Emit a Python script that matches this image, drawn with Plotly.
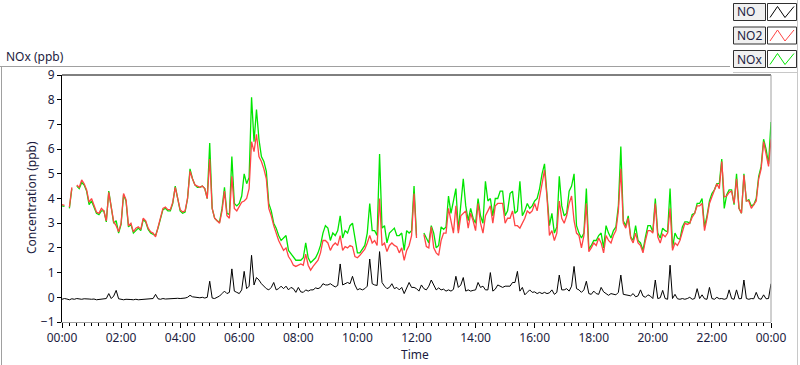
import plotly.graph_objects as go
import pandas as pd

# ---------------- data (5-minute samples, 00:00 .. 24:00) ----------------
start_time = "2024-01-01 00:00"
end_time = "2024-01-02 00:00"
sample_step = "5min"

no2_ppb = [
    3.75, 3.72, None, 3.65, 4.45, None, 4.55, 4.45, 4.75, 4.6, 4.35, 3.85,
    4.0, 3.7, 3.45, 3.4, 3.6, 3.5, 3.1, 4.25, 3.6, 3.05, 2.9, 2.65,
    3.0, 4.2, 3.95, 2.9, 3.0, 2.65, 2.8, 2.85, 2.75, 3.2, 3.1, 2.8,
    2.65, 2.6, 2.45, 2.85, 3.25, 3.6, 3.65, 3.55, 3.55, 3.85, 4.45, 4.0,
    3.55, 3.45, 3.5, 4.0, 5.1, 4.8, 4.55, 4.5, 4.45, 4.5, 4.4, 4.0,
    5.6, 3.6, 3.2, 3.1, 3.0, 3.5, 4.3, 3.3, 3.2, 4.9, 3.6, 3.5,
    3.65, 3.85, 3.9, 4.0, 4.4, 6.3, 5.9, 6.6, 5.7, 5.5, 5.2, 4.8,
    3.6, 3.3, 2.9, 2.6, 2.3, 2.1, 1.9, 2.0, 1.65, 1.5, 1.3, 1.25,
    1.3, 1.35, 1.3, 1.75, 1.3, 1.1, 1.25, 1.4, 1.5, 1.8, 2.3, 2.3,
    2.2, 1.9, 2.1, 2.2, 2.1, 2.5, 1.9, 2.05, 2.0, 2.1, 2.05, 1.65,
    1.6, 1.7, 1.85, 1.95, 2.2, 2.5, 2.2, 2.3, 2.1, 4.0, 2.1, 2.2,
    1.85, 2.1, 2.2, 2.1, 2.05, 1.8, 2.0, 1.5, 1.9, 2.1, 2.5, 4.2,
    2.4, None, None, 2.55, 2.05, 2.0, 2.85, 2.0, 1.8, 1.7, 2.3, 2.6,
    2.6, 3.6, 3.1, 2.6, 3.7, 2.6, 3.3, 3.4, 3.5, 2.8, 3.4, 3.1,
    2.7, 3.8, 3.0, 2.6, 3.3, 3.5, 3.7, 3.0, 3.7, 3.8, 3.8, 3.8,
    3.0, 3.2, 3.2, 3.5, 2.9, 2.9, 2.8, 3.0, 3.2, 3.5, 3.4, 3.5,
    3.8, 3.5, 4.05, 4.6, 5.15, 4.07, 2.5, 2.7, 2.3, 2.6, 3.9, 3.2,
    3.0, 3.3, 3.8, 4.1, 3.1, 2.6, 2.5, 2.0, 2.5, 3.8, 1.85, 2.0,
    2.2, 2.1, 2.4, 2.2, 1.8, 2.5, 2.3, 2.2, 2.5, 2.7, 3.5, 5.2,
    3.0, 2.8, 3.2, 2.4, 2.2, 2.6, 2.2, 2.1, 1.8, 2.3, 2.7, 2.7,
    2.6, 3.8, 2.45, 2.2, 2.55, 2.45, 2.6, 3.6, 1.9, 2.2, 2.1, 2.3,
    2.7, 3.0, 2.95, 3.0, 3.25, 3.4, 3.7, 3.7, 3.8, 2.7, 3.2, 3.8,
    4.07, 4.3, 4.6, 4.4, 5.5, 4.07, 4.1, 4.25, 4.3, 3.8, 4.8, 3.6,
    3.4, 4.95, 3.9, 3.9, 3.6, 3.75, 3.9, 4.8, 5.2, 6.3, 5.8, 5.3,
    6.4,
]

nox_ppb = [
    3.7, 3.68, None, 3.6, 4.4, None, 4.5, 4.4, 4.65, 4.55, 4.3, 3.75,
    3.9, 3.65, 3.4, 3.35, 3.5, 3.5, 3.05, 4.3, 3.55, 3.0, 3.1, 2.6,
    2.95, 4.15, 3.9, 2.85, 2.95, 2.6, 2.7, 2.8, 2.7, 3.15, 3.05, 2.75,
    2.6, 2.55, 2.5, 2.8, 3.2, 3.55, 3.6, 3.5, 3.5, 3.8, 4.5, 3.95,
    3.5, 3.4, 3.45, 4.0, 5.2, 4.8, 4.55, 4.45, 4.45, 4.5, 4.4, 4.0,
    6.25, 3.6, 3.2, 3.1, 3.05, 3.6, 4.45, 3.4, 3.35, 5.7, 3.8, 3.7,
    3.8, 4.1, 5.0, 4.6, 4.85, 8.1, 6.3, 7.6, 6.4, 5.7, 5.5, 5.1,
    3.8, 3.5, 3.0, 2.8, 2.5, 2.3, 2.4, 2.5, 1.9, 1.75, 1.6, 1.5,
    1.5, 1.5, 1.6, 2.2, 1.6, 1.4, 1.5, 1.6, 1.8, 2.1, 2.6, 2.9,
    2.8, 2.3, 2.6, 2.5, 2.7, 3.3, 2.4, 2.7, 2.6, 2.9, 3.0, 2.4,
    1.8, 1.8, 1.95, 2.1, 2.6, 3.8, 2.7, 2.7, 2.5, 5.8, 2.8, 2.9,
    2.2, 2.6, 2.7, 2.8, 2.5, 2.5, 2.6, 1.9, 2.7, 2.6, 2.7, 4.5,
    2.5, None, None, 2.6, 2.4, 2.2, 2.9, 2.6, 2.0, 2.1, 2.85, 2.75,
    2.85, 4.1, 3.4, 3.9, 4.4, 2.7, 3.8, 4.8, 3.7, 3.1, 3.6, 3.2,
    3.0, 4.0, 3.3, 3.0, 4.7, 3.9, 4.0, 3.3, 4.0, 4.0, 4.3, 4.3,
    3.3, 3.5, 4.2, 4.3, 3.4, 3.5, 4.7, 3.3, 3.5, 3.8, 3.6, 3.7,
    3.9, 4.0, 4.4, 5.0, 5.4, 4.2, 2.9, 3.4, 2.6, 2.85, 4.9, 3.7,
    3.3, 3.4, 4.3, 4.5, 5.0, 2.9, 2.6, 2.4, 2.6, 4.4, 1.95, 2.1,
    2.3, 2.3, 2.5, 2.6, 2.0, 2.9, 2.6, 2.4, 2.7, 2.85, 3.7, 6.1,
    3.1, 2.9, 3.3, 2.45, 2.3, 2.9, 2.3, 2.2, 1.9, 2.45, 2.9, 2.9,
    2.65, 4.0, 2.6, 2.4, 2.8, 2.7, 2.65, 4.4, 2.0, 2.6, 2.4, 2.35,
    2.85, 3.05, 3.05, 3.0, 3.35, 3.4, 3.8, 3.8, 4.0, 2.85, 3.3, 3.9,
    4.2, 4.35, 4.6, 4.6, 5.6, 3.6, 4.15, 4.35, 4.35, 3.75, 5.0, 3.6,
    3.4, 5.0, 3.9, 3.95, 3.7, 3.75, 4.0, 4.9, 5.3, 6.4, 6.0, 5.4,
    7.1,
]

no_ppb = [
    -0.08, -0.05, -0.07, -0.1, -0.06, -0.08, -0.05, -0.07, -0.08, -0.06, -0.08, -0.07,
    -0.08, -0.07, -0.1, -0.09, -0.1, -0.08, -0.05, 0.15, -0.05, 0.05, 0.28, -0.06,
    -0.08, -0.1, -0.08, -0.1, -0.09, -0.1, -0.08, -0.1, -0.09, -0.08, -0.1, -0.08,
    -0.06, -0.05, 0.12, -0.06, -0.08, -0.05, -0.07, -0.06, -0.05, -0.07, -0.06, -0.04,
    -0.05, -0.05, -0.03, 0.0, 0.08, 0.02, 0.0, 0.0, -0.02, 0.0, -0.03, 0.0,
    0.65, -0.03, -0.05, 0.0, 0.05, 0.15, 0.25, 0.15, 0.2, 1.15, 0.25, 0.2,
    0.15, 0.3, 1.05, 0.35, 0.45, 1.7, 0.5, 0.8, 0.7, 0.55, 0.45, 0.35,
    0.3, 0.4, 0.6, 0.3, 0.35, 0.45, 0.35, 0.45, 0.3, 0.4, 0.35, 0.2,
    0.4, 0.22, 0.2, 0.3, 0.25, 0.3, 0.3, 0.38, 0.35, 0.4, 0.55, 0.5,
    0.5, 0.55, 0.48, 0.42, 0.48, 1.35, 0.5, 0.55, 0.6, 0.55, 0.85, 0.5,
    0.3, 0.35, 0.3, 0.35, 0.45, 1.55, 0.55, 0.5, 0.48, 1.85, 0.6, 0.45,
    0.35, 0.4, 0.55, 0.35, 0.4, 0.3, 0.4, 0.15, 0.35, 0.6, 0.4, 0.4,
    0.35, 0.25, 0.5, 0.35, 0.3, 0.45, 0.7, 0.5, 0.3, 0.38, 0.3, 0.33,
    0.25, 0.3, 0.25, 0.32, 0.85, 0.4, 0.5, 0.8, 0.25, 0.3, 0.25, 0.28,
    0.3, 0.6, 0.4, 0.45, 0.3, 0.3, 1.0, 0.25, 0.33, 0.5, 0.45, 0.4,
    0.45, 0.45, 0.45, 0.6, 0.6, 1.05, 0.25, 0.4, 0.1, 0.2, 0.3, 0.2,
    0.22, 0.15, 0.2, 0.15, 0.2, 0.15, 0.18, 0.3, 0.12, 0.2, 0.9, 0.3,
    0.3, 0.35, 0.25, 0.45, 1.25, 0.35, 0.3, 0.2, 0.3, 0.65, 0.15, 0.12,
    0.25, 0.15, 0.12, 0.4, 0.22, 0.15, 0.08, 0.15, 0.12, 0.1, 0.2, 0.9,
    0.12, 0.1, 0.05, 0.06, 0.15, 0.02, 0.06, 0.3, 0.05, 0.0, 0.1, 0.05,
    -0.05, 0.7, -0.05, -0.02, 0.28, -0.05, -0.08, 1.3, -0.05, 0.12, -0.06, -0.08,
    -0.05, -0.08, -0.05, 0.0, -0.08, -0.05, 0.35, -0.05, 0.1, -0.06, -0.08, 0.4,
    -0.05, -0.08, 0.0, -0.06, -0.05, -0.08, -0.05, 0.3, -0.05, -0.08, 0.3, -0.06,
    -0.05, 0.7, -0.05, -0.08, -0.05, -0.06, 0.2, -0.05, -0.08, 0.1, -0.06, -0.05,
    0.55,
]

series_names = ["NO", "NO2", "NOx"]
y_ticks = [-1, 0, 1, 2, 3, 4, 5, 6, 7, 8, 9]

times = pd.date_range(start_time, end_time, freq=sample_step)

# ---------------- styling ----------------
W, H = 800, 365
L, R, T, B = 62, 771, 75, 322
C_NO, C_NO2, C_NOX = "#000000", "#ff4545", "#00e600"
TXT = "#1c1c40"
FONT = "Noto Sans"

def fx(px):
    return (px - L) / (R - L)

def fy(py):
    return (B - py) / (B - T)

fig = go.Figure()
fig.add_trace(go.Scatter(x=times, y=no_ppb, name="NO", mode="lines",
                         line=dict(color=C_NO, width=1)))
fig.add_trace(go.Scatter(x=times, y=nox_ppb, name="NOx", mode="lines",
                         line=dict(color=C_NOX, width=1.3)))
fig.add_trace(go.Scatter(x=times, y=no2_ppb, name="NO2", mode="lines",
                         line=dict(color=C_NO2, width=1.3)))

fig.update_layout(
    width=W, height=H,
    margin=dict(l=L, r=W - R, t=T, b=H - B, pad=0),
    paper_bgcolor="white", plot_bgcolor="white",
    showlegend=False,
    font=dict(family=FONT, size=12, color=TXT),
    xaxis=dict(
        range=[times[0], times[-1]], type="date",
        tickformat="%H:%M", dtick=2 * 3600 * 1000, tick0=times[0],
        ticks="outside", ticklen=5, tickcolor="black", tickwidth=1,
        showline=True, linecolor="#a0a0a0", linewidth=1,
        showgrid=False, zeroline=False,
        tickfont=dict(family=FONT, size=12, color=TXT),
        minor=dict(dtick=15 * 60 * 1000, ticks="outside", ticklen=3,
                   tickcolor="black", tickwidth=1, showgrid=False),
    ),
    yaxis=dict(
        range=[-1, 9], tickvals=y_ticks,
        ticks="outside", ticklen=4, tickcolor="black", tickwidth=1,
        showline=True, linecolor="black", linewidth=1,
        showgrid=False, zeroline=False,
        tickfont=dict(family=FONT, size=12, color=TXT),
    ),
)

shapes = []
# plot frame: top black, right grey
shapes.append(dict(type="line", xref="paper", yref="paper", x0=0, x1=1, y0=1, y1=1,
                   line=dict(color="black", width=1)))
shapes.append(dict(type="line", xref="paper", yref="paper", x0=1, x1=1, y0=0, y1=1,
                   line=dict(color="#a0a0a0", width=1)))
# outer panel frame
shapes.append(dict(type="line", xref="paper", yref="paper", x0=fx(0), x1=fx(730), y0=fy(66.5), y1=fy(66.5),
                   line=dict(color="#a0a0a0", width=1)))
shapes.append(dict(type="line", xref="paper", yref="paper", x0=fx(1.5), x1=fx(1.5), y0=fy(66), y1=fy(366),
                   line=dict(color="#a0a0a0", width=1)))
shapes.append(dict(type="line", xref="paper", yref="paper", x0=fx(797.5), x1=fx(797.5), y0=fy(0), y1=fy(366),
                   line=dict(color="#c8c8c8", width=1)))
shapes.append(dict(type="line", xref="paper", yref="paper", x0=fx(733), x1=fx(797), y0=fy(72.5), y1=fy(72.5),
                   line=dict(color="#c8c8c8", width=1)))

annotations = []
legend_colors = [C_NO, C_NO2, C_NOX]
for i, (name, col) in enumerate(zip(series_names, legend_colors)):
    top = 3.5 + i * 23.5
    bot = top + 17
    shapes.append(dict(type="rect", xref="paper", yref="paper",
                       x0=fx(733.5), x1=fx(765.5), y0=fy(bot), y1=fy(top),
                       fillcolor="#f0f0f0", line=dict(color="#303030", width=1)))
    shapes.append(dict(type="rect", xref="paper", yref="paper",
                       x0=fx(767.5), x1=fx(796.5), y0=fy(bot), y1=fy(top),
                       fillcolor="white", line=dict(color="#303030", width=1)))
    pts = [(770, bot - 3), (777.5, top + 3), (785, bot - 3), (794, top + 3)]
    path = "M " + " L ".join(f"{fx(px):.5f},{fy(py):.5f}" for px, py in pts)
    shapes.append(dict(type="path", xref="paper", yref="paper", path=path,
                       line=dict(color=col, width=1)))
    annotations.append(dict(text=name, xref="paper", yref="paper",
                            x=fx(735), y=fy((top + bot) / 2), xanchor="left", yanchor="middle",
                            showarrow=False, font=dict(family=FONT, size=12, color=TXT)))

annotations.append(dict(text="Concentration (ppb)", xref="paper", yref="paper",
                        x=fx(31), y=fy(198), xanchor="center", yanchor="middle",
                        textangle=-90, showarrow=False,
                        font=dict(family=FONT, size=12, color=TXT)))
annotations.append(dict(text="Time", xref="paper", yref="paper",
                        x=fx(415), y=fy(354), xanchor="center", yanchor="middle",
                        showarrow=False, font=dict(family=FONT, size=12, color=TXT)))
annotations.append(dict(text="NOx (ppb)", xref="paper", yref="paper",
                        x=fx(4), y=fy(57), xanchor="left", yanchor="middle",
                        showarrow=False, font=dict(family=FONT, size=12, color=TXT)))

fig.update_layout(shapes=shapes, annotations=annotations)

fig.write_html(
    "out.html",
    config={"displayModeBar": False},
    post_script="document.body.style.margin='0';document.body.style.padding='0';"
                "document.body.style.overflow='hidden';",
)
